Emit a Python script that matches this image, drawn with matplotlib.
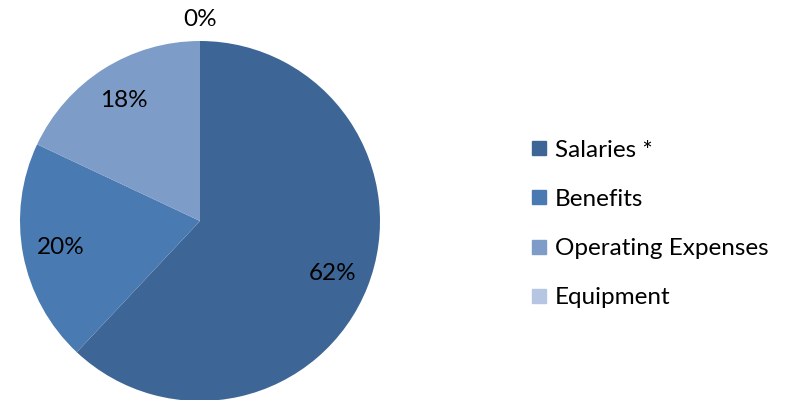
import matplotlib
matplotlib.use("Agg")
import matplotlib.pyplot as plt
from matplotlib.lines import Line2D

categories = ["Salaries *", "Benefits", "Operating Expenses", "Equipment"]
values = [62, 20, 18, 0]
colors = ["#3D6696", "#4A7AB2", "#7E9CC8", "#B6C6E2"]

plt.rcParams['font.family'] = ['Lato', 'DejaVu Sans']
FS = 17.5

fig = plt.figure(figsize=(7.91, 4.0), dpi=100)
ax = fig.add_axes([20/791, -1/400, 360/791, 360/400])
wedges, texts, autotexts = ax.pie(values, colors=colors, startangle=90, counterclock=False,
                                  radius=1, autopct='%1.0f%%', pctdistance=0.79,
                                  textprops={'fontsize': FS, 'color': 'black'},
                                  wedgeprops={'linewidth': 0})
for v, t in zip(values, autotexts):
    if v == 0:
        t.set_position((0, 1.12))
for t in autotexts:
    t.set_clip_on(False)
for w in wedges:
    w.set_clip_on(False)
ax.set_xlim(-1, 1)
ax.set_ylim(-1, 1)
ax.set_aspect('equal')
ax.axis('off')

handles = [Line2D([0], [0], marker='s', linestyle='none', markersize=10,
                  markerfacecolor=c, markeredgecolor=c) for c in colors]
fig.legend(handles, categories, loc='center left', bbox_to_anchor=(517/791, 0.440),
           frameon=False, fontsize=FS, labelspacing=1.16, handlelength=0.8,
           handletextpad=0.25, borderpad=0)

fig.savefig("out.png", dpi=100, facecolor='white')
